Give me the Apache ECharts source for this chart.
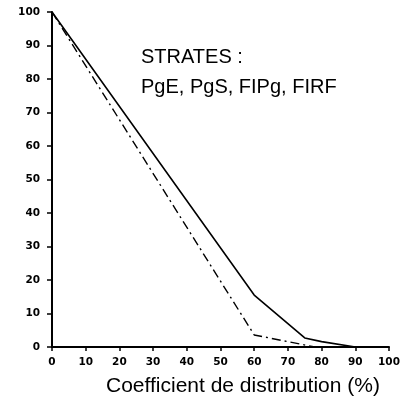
<!DOCTYPE html>
<html>
<head>
<meta charset="utf-8">
<script src="https://cdn.jsdelivr.net/npm/echarts@6/dist/echarts.min.js"></script>
<style>
  html, body { margin: 0; padding: 0; background: #fff; }
  #chart { width: 412px; height: 404px; }
</style>
</head>
<body>
<div id="chart"></div>
<script>
// points: [coefficient %, value]
var solidLine = [[0, 100], [60, 15.5], [75, 2.7], [80, 1.6], [90, 0]];
var dashDotLine = [[0, 100], [60, 3.6], [78, 0]];
var xTicks = [0, 10, 20, 30, 40, 50, 60, 70, 80, 90, 100];
var yTicks = [0, 10, 20, 30, 40, 50, 60, 70, 80, 90, 100];

var chart = echarts.init(document.getElementById('chart'));

var tickFont = { fontFamily: 'DejaVu Sans', fontWeight: 'bold', fontSize: 10.5, color: '#000' };

var option = {
  animation: false,
  grid: { left: 52, right: 23, top: 12, bottom: 57 },
  xAxis: {
    type: 'value',
    min: xTicks[0],
    max: xTicks[xTicks.length - 1],
    interval: 10,
    axisLine: { show: true, onZero: false, lineStyle: { color: '#000', width: 2 } },
    axisTick: { show: true, length: 4, lineStyle: { color: '#000', width: 1.5 } },
    axisLabel: Object.assign({ margin: 10 }, tickFont),
    splitLine: { show: false }
  },
  yAxis: {
    type: 'value',
    min: yTicks[0],
    max: yTicks[yTicks.length - 1],
    interval: 10,
    axisLine: { show: true, onZero: false, lineStyle: { color: '#000', width: 2 } },
    axisTick: { show: true, length: 5, lineStyle: { color: '#000', width: 1.5 } },
    axisLabel: Object.assign({ margin: 12 }, tickFont),
    splitLine: { show: false }
  },
  graphic: [
    {
      type: 'text', left: 141, top: 47,
      style: { text: 'STRATES :', font: '20px Arial', fill: '#000' }
    },
    {
      type: 'text', left: 141, top: 77,
      style: { text: 'PgE, PgS, FIPg, FIRF', font: '20px Arial', fill: '#000' }
    },
    {
      type: 'text', left: 106, top: 376,
      style: { text: 'Coefficient de distribution (%)', font: '21px Arial', fill: '#000' }
    }
  ],
  series: [
    {
      type: 'line',
      data: solidLine,
      symbol: 'none',
      lineStyle: { color: '#000', width: 1.6 }
    },
    {
      type: 'line',
      data: dashDotLine,
      symbol: 'none',
      lineStyle: { color: '#000', width: 1.4, type: [9, 4, 2, 4] }
    }
  ]
};

chart.setOption(option);
</script>
</body>
</html>
